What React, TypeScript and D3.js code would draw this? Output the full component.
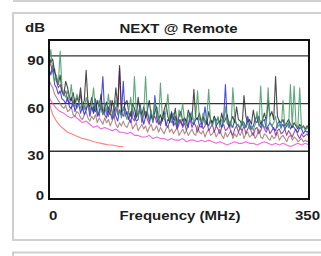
import * as d3 from 'd3';

// frequency sampling (MHz): fine grid for the measured pairs, coarse grid for the smooth curves
const freqs = d3.range(0, 351, 2.5);
const coarseFreqs = d3.range(0, 351, 5);

// NEXT values per pair (dB), one row per 50 MHz
const green = [
  86, 94, 80, 74, 78, 72, 93, 70, 66, 64, 68, 62, 72, 60, 58, 66, 62, 57, 60, 56,
  64, 58, 55, 60, 70, 56, 54, 62, 57, 53, 60, 55, 66, 54, 52, 58, 62, 53, 56, 51,
  58, 54, 50, 56, 64, 52, 77, 55, 52, 58, 50, 54, 77, 53, 50, 56, 49, 62, 54, 48,
  73, 52, 50, 55, 66, 50, 48, 54, 50, 47, 56, 52, 60, 49, 46, 53, 50, 55, 48, 52,
  68, 50, 48, 54, 47, 52, 69, 48, 46, 51, 47, 52, 45, 50, 48, 58, 47, 49, 45, 70,
  52, 46, 47, 44, 50, 46, 45, 48, 44, 46, 43, 47, 55, 46, 71, 47, 45, 46, 70, 48,
  46, 48, 52, 45, 47, 44, 62, 46, 48, 45, 72, 46, 71, 47, 45, 70, 44, 46, 43, 45,
  44,
];
const black = [
  90, 86, 88, 80, 76, 72, 78, 68, 66, 74, 70, 64, 62, 67, 60, 64, 61, 70, 58, 62,
  81, 60, 58, 64, 57, 55, 62, 58, 66, 54, 57, 61, 55, 53, 62, 56, 70, 58, 84, 55,
  56, 60, 62, 54, 52, 60, 57, 51, 64, 55, 53, 58, 51, 56, 62, 52, 50, 55, 58, 50,
  53, 49, 56, 60, 52, 48, 54, 50, 57, 47, 52, 55, 49, 51, 48, 56, 52, 50, 69, 51,
  50, 54, 48, 52, 49, 47, 55, 50, 48, 52, 49, 51, 47, 54, 48, 50, 53, 46, 49, 52,
  48, 58, 50, 49, 46, 65, 52, 48, 50, 47, 56, 49, 48, 52, 47, 50, 54, 49, 62, 52,
  55, 50, 77, 52, 49, 48, 50, 46, 48, 50, 47, 45, 48, 46, 44, 47, 45, 46, 44, 46,
  45,
];
const blue = [
  82, 78, 84, 72, 70, 66, 68, 63, 62, 60, 64, 58, 57, 62, 55, 59, 60, 54, 58, 53,
  56, 60, 52, 58, 54, 63, 52, 55, 60, 77, 53, 51, 58, 55, 50, 57, 52, 49, 56, 53,
  74, 52, 55, 50, 48, 56, 52, 49, 50, 60, 53, 47, 52, 55, 49, 53, 48, 65, 51, 47,
  48, 52, 55, 46, 50, 49, 55, 47, 52, 45, 50, 48, 46, 51, 49, 45, 54, 48, 47, 50,
  51, 46, 45, 49, 58, 48, 46, 50, 47, 52, 46, 48, 49, 45, 50, 72, 48, 46, 47, 45,
  50, 47, 46, 44, 49, 48, 45, 52, 47, 44, 46, 50, 52, 47, 45, 49, 50, 44, 46, 48,
  46, 44, 43, 47, 49, 45, 47, 44, 46, 48, 44, 46, 45, 43, 42, 45, 44, 41, 43, 42,
  43,
];
const purple = [
  88, 84, 80, 82, 74, 70, 72, 67, 65, 68, 62, 60, 64, 58, 63, 57, 60, 66, 56, 59,
  56, 62, 55, 58, 54, 60, 55, 52, 59, 53, 57, 54, 52, 62, 55, 51, 58, 53, 82, 54,
  52, 57, 53, 50, 55, 51, 49, 56, 52, 58, 48, 53, 55, 50, 47, 54, 50, 52, 48, 51,
  46, 50, 52, 47, 45, 49, 52, 46, 48, 44, 47, 50, 45, 48, 43, 47, 50, 45, 48, 46,
  42, 46, 48, 44, 46, 49, 43, 45, 47, 42, 46, 44, 41, 45, 47, 43, 44, 46, 42, 40,
  44, 46, 42, 45, 43, 46, 41, 44, 46, 42, 40, 44, 45, 41, 43, 47, 44, 42, 45, 41,
  43, 45, 40, 43, 44, 41, 42, 44, 40, 43, 41, 39, 42, 44, 40, 38, 41, 39, 40, 41,
  39,
];
const brown = [
  75, 72, 70, 66, 64, 62, 60, 58, 57, 59, 55, 56, 58, 53, 52, 55, 54, 51, 50, 53,
  55, 51, 49, 52, 50, 53, 48, 51, 49, 47, 51, 48, 50, 46, 49, 52, 47, 45, 48, 46,
  49, 46, 45, 48, 50, 44, 46, 48, 43, 45, 47, 44, 46, 42, 45, 47, 43, 44, 46, 42,
  45, 43, 41, 44, 46, 42, 44, 41, 43, 45, 40, 42, 44, 41, 43, 40, 42, 44, 41, 40,
  46, 42, 41, 43, 39, 42, 44, 40, 41, 43, 39, 41, 44, 40, 38, 42, 39, 41, 43, 38,
  41, 39, 42, 40, 43, 38, 41, 42, 39, 40, 42, 38, 40, 44, 39, 38, 41, 40, 38, 37,
  40, 38, 39, 42, 37, 39, 40, 38, 36, 39, 40, 37, 39, 38, 36, 37, 38, 36, 37, 36,
  37,
];
const pink = [
  64, 60, 57, 55, 54, 52, 51, 52, 50, 48, 49, 47, 45, 46, 44, 45, 44, 43, 44, 42,
  42, 41, 42, 40, 40, 39, 39, 40, 38, 39, 38, 38, 37, 38, 37, 37, 38, 36, 37, 37,
  36, 37, 36, 37, 36, 35, 36, 35, 34, 35, 36, 35, 35, 36, 35, 35, 34, 35, 36, 35,
  34, 35, 34, 35, 34, 33, 34, 35, 34, 35, 34,
];
// limit curve, only over the first 100 MHz
const red = [61, 53, 49, 46, 44, 42, 41, 40, 39, 38, 37.5, 37, 36, 35.5, 35, 34.5, 34, 34, 33.5, 33, 33];

const yTicks = [0, 30, 60, 90];
const gridTicks = [30, 60, 90];
const xTicks = [0, 350];

const series = [
  { f: coarseFreqs, values: pink, color: '#f04cd8' },
  { f: coarseFreqs, values: red, color: '#ff6a6a' },
  { f: freqs, values: brown, color: '#a67272' },
  { f: freqs, values: purple, color: '#8e2c8e' },
  { f: freqs, values: blue, color: '#2a2ae6' },
  { f: freqs, values: black, color: '#2a2a2a' },
  { f: freqs, values: green, color: '#3f9a62' },
];

const font = '"Liberation Sans", Arial, sans-serif';

function Txt({ x, y, anchor = 'start', children }: { x: number; y: number; anchor?: string; children: string }) {
  // source text is a bold helvetica stretched sideways
  return (
    <text
      transform={`translate(${x},${y}) scale(1.25,1)`}
      textAnchor={anchor}
      fontFamily={font}
      fontWeight="bold"
      fontSize={12}
      fill="#1e1e1e"
    >
      {children}
    </text>
  );
}

export default function App() {
  const x = d3.scaleLinear().domain([0, 350]).range([49, 309]);
  const y = d3.scaleLinear().domain([0, 100]).range([199, 40]);
  const [x0, x1] = x.range();
  const [yb, yt] = y.range();

  return (
    <svg width={321} height={256} style={{ position: 'absolute', left: 0, top: 0, background: '#fff' }}>
      <defs>
        <clipPath id="plot">
          <rect x={x0} y={yt} width={x1 - x0} height={yb - yt} />
        </clipPath>
      </defs>

      {/* panel borders */}
      <line x1={13} x2={321} y1={1} y2={1} stroke="#d0d0d0" strokeWidth={2} />
      <rect x={13} y={13} width={340} height={227} fill="none" stroke="#d0d0d0" strokeWidth={2} />
      <rect x={13} y={252.5} width={340} height={30} fill="none" stroke="#d0d0d0" strokeWidth={2} />

      <Txt x={178.5} y={33} anchor="middle">NEXT @ Remote</Txt>
      <Txt x={25} y={32}>dB</Txt>

      {gridTicks.map(t => (
        <line key={t} x1={x0} x2={x1} y1={y(t)} y2={y(t)} stroke="#333" strokeWidth={1.4} />
      ))}

      <g clipPath="url(#plot)" fill="none" strokeWidth={1.1} strokeLinejoin="round">
        {series.map((s, i) => {
          const line = d3.line<number>().x((_, j) => x(s.f[j])).y(d => y(d));
          return <path key={i} d={line(s.values) ?? ''} stroke={s.color} strokeOpacity={0.85} />;
        })}
      </g>

      <rect x={x0} y={yt} width={x1 - x0} height={yb - yt} fill="none" stroke="#111" strokeWidth={2} />

      {yTicks.map(t => (
        <Txt key={t} x={44} y={Math.min(y(t) + 9, 200)} anchor="end">{String(t)}</Txt>
      ))}
      {xTicks.map((t, i) => (
        <Txt key={t} x={i === 0 ? x(t) : x(t) + 11} y={220} anchor={i === 0 ? 'start' : 'end'}>{String(t)}</Txt>
      ))}
      <Txt x={180} y={220} anchor="middle">Frequency (MHz)</Txt>
    </svg>
  );
}
